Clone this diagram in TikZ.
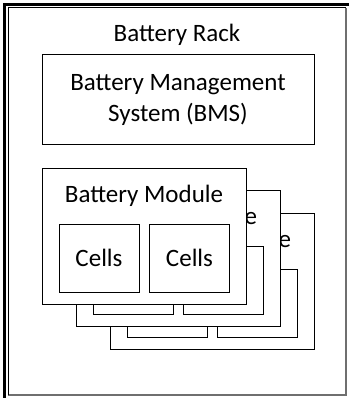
\documentclass[tikz,border=0pt]{standalone}
\usepackage{fontspec}
\setmainfont{Carlito}
\usetikzlibrary{positioning}
\definecolor{Ink}{HTML}{000000}
\definecolor{Shade}{HTML}{6F6F6F}
\newcommand{\bigfont}{\fontsize{25}{30.5}\selectfont}
\tikzset{
  box/.style={draw=Ink,line width=1pt,fill=white,text=Ink,align=center,font=\bigfont,inner sep=0pt},
  modulebox/.style={box,minimum width=204pt,minimum height=136pt},
  cellbox/.style={box,minimum width=80pt,minimum height=68pt},
  title/.style={text=Ink,font=\bigfont,inner sep=0pt,anchor=base}
}

\begin{document}
\begin{tikzpicture}[x=1pt,y=-1pt]
  \useasboundingbox (0,0) rectangle (349,398);
  % rack frame
  \draw[Ink,line width=2.5pt] (349,4.5) -- (4.5,4.5) -- (4.5,398);
  \draw[Shade,line width=2pt] (346,8) -- (346,395) -- (8,395);
  \draw[Ink,line width=1pt] (8,395) -- (8,8) -- (346,8);
  \node[title] (rack) at (177,42) {Battery Rack};
  % BMS
  \node[box,minimum width=272pt,minimum height=90pt] (bms) at (178,100) {Battery Management\\System (BMS)};
  % modules, back to front
  \foreach \i/\name in {2/back,1/mid,0/front} {
    \begin{scope}[shift={(34*\i,22.5*\i)}]
      \node[modulebox] (\name) at (144,236) {};
      \node[title] (\name-title) at (144,202) {Battery Module};
      \node[cellbox] (\name-cellA) at (99,258) {Cells};
      \node[cellbox] (\name-cellB) at (189.5,258) {Cells};
    \end{scope}
  }
\end{tikzpicture}
\end{document}
